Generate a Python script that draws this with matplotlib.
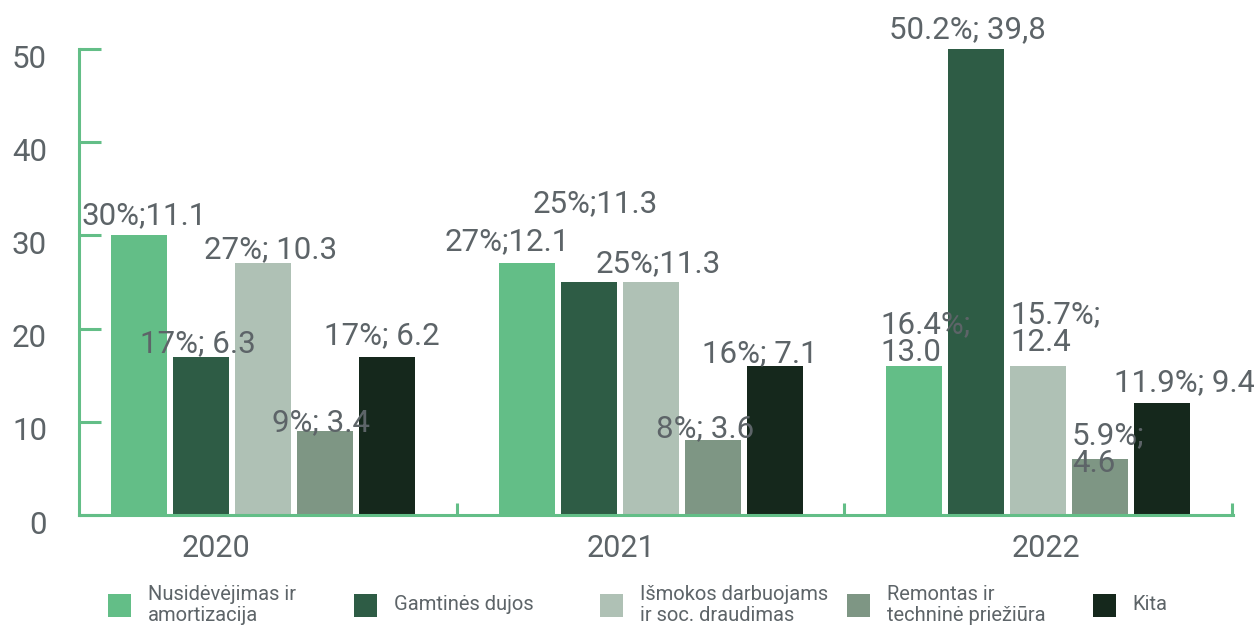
import matplotlib
matplotlib.use("Agg")
import matplotlib.pyplot as plt
from matplotlib.patches import Rectangle
from matplotlib.transforms import ScaledTranslation, offset_copy

# ---------------- data ----------------
years = ["2020", "2021", "2022"]
categories = [
    "Nusidėvėjimas ir\namortizacija",
    "Gamtinės dujos",
    "Išmokos darbuojams\nir soc. draudimas",
    "Remontas ir\ntechninė priežiūra",
    "Kita",
]
# bar heights (share, %) per category across years
nusidevejimas = [30, 27, 16]
gamtines_dujos = [17, 25, 50]
ismokos = [27, 25, 16]
remontas = [9, 8, 6]
kita = [17, 16, 12]

# value labels per category across years
lbl_nusidevejimas = ["30%;11.1", "27%;12.1", "16.4%;\n13.0"]
lbl_gamtines = ["17%; 6.3", "25%;11.3", "50.2%; 39,8"]
lbl_ismokos = ["27%; 10.3", "25%;11.3", "15.7%;\n12.4"]
lbl_remontas = ["9%; 3.4", "8%; 3.6", "5.9%;\n4.6"]
lbl_kita = ["17%; 6.2", "16%; 7.1", "11.9%; 9.4"]

yticks = [0, 10, 20, 30, 40, 50]

# ---------------- style / layout ----------------
colors = ["#63be87", "#2e5c45", "#afc1b5", "#7e9684", "#15281c"]
axis_color = "#63be87"
text_color = "#5d6468"
plt.rcParams["font.family"] = ["Roboto", "DejaVu Sans"]

series = [nusidevejimas, gamtines_dujos, ismokos, remontas, kita]
series_labels = [lbl_nusidevejimas, lbl_gamtines, lbl_ismokos, lbl_remontas, lbl_kita]

bar_step = 0.16
bar_width = 0.1445

# label offsets in pixels (dx, dy) and horizontal alignment, [category][year]
lbl_offsets = [
    [(5, 11, "center"), (-19, 13, "center"), (-34, 5, "left")],
    [(-3, 4, "center"), (7, 70, "center"), (-9, 11, "center")],
    [(7, 5, "center"), (8, 10, "center"), (-28, 15, "left")],
    [(-4, 0, "center"), (-7, 3, "center"), (-28, -13, "left")],
    [(-5, 12, "center"), (-15, 4, "center"), (22, 12, "center")],
]
year_label_pos = [-0.121, 0.924, 2.02]

W, H = 1254, 627
fig = plt.figure(figsize=(W / 100, H / 100), dpi=100)
ax = fig.add_axes([79 / W, 1 - 515 / H, (1233 - 79) / W, (515 - 49) / H])

for j, (vals, labels) in enumerate(zip(series, series_labels)):
    xs = [i + (j - 2) * bar_step for i in range(len(years))]
    ax.bar(xs, vals, width=bar_width, color=colors[j], zorder=1)
    for i, (x, v, s) in enumerate(zip(xs, vals, labels)):
        dx, dy, ha = lbl_offsets[j][i]
        if ha == "left":
            x = x - bar_width / 2
            dx = dx + 28
        tr = offset_copy(ax.transData, fig=fig, x=dx, y=dy, units="dots")
        ax.text(x, v, s, transform=tr, ha=ha, va="baseline", fontsize=22.5,
                color=text_color, linespacing=0.95, zorder=5, clip_on=False)

ax.set_xlim(-0.475, 2.503)
ax.set_ylim(0, 50)

for s in ["top", "right"]:
    ax.spines[s].set_visible(False)
for s in ["left", "bottom"]:
    ax.spines[s].set_color(axis_color)
    ax.spines[s].set_linewidth(2.2)

ax.set_yticks(yticks)
ax.set_yticklabels([str(t) for t in yticks])
ax.tick_params(axis="y", direction="in", length=15.8, width=2.2, color=axis_color,
               labelsize=22.5, labelcolor=text_color, pad=23)
for lab in ax.get_yticklabels():
    lab.set_transform(lab.get_transform() + ScaledTranslation(0, -7 / 100, fig.dpi_scale_trans))

ax.set_xticks(year_label_pos)
ax.set_xticklabels(years)
ax.tick_params(axis="x", which="major", length=0, labelsize=22, labelcolor=text_color, pad=14)
ax.set_xticks([0.5, 1.5, 2.5], minor=True)
ax.tick_params(axis="x", which="minor", direction="in", length=8.6, width=2.2, color=axis_color)

# legend (manual, evenly spaced columns)
for k, (cat, col) in enumerate(zip(categories, colors)):
    x0 = 108 + 246.2 * k
    fig.add_artist(Rectangle((x0 / W, 1 - 617 / H), 23 / W, 23 / H,
                             transform=fig.transFigure, color=col, lw=0))
    fig.text((x0 + 40) / W, 1 - 605 / H, cat, ha="left", va="center",
             fontsize=14.5, color=text_color, linespacing=1.15)

fig.savefig("out.png", dpi=100)
